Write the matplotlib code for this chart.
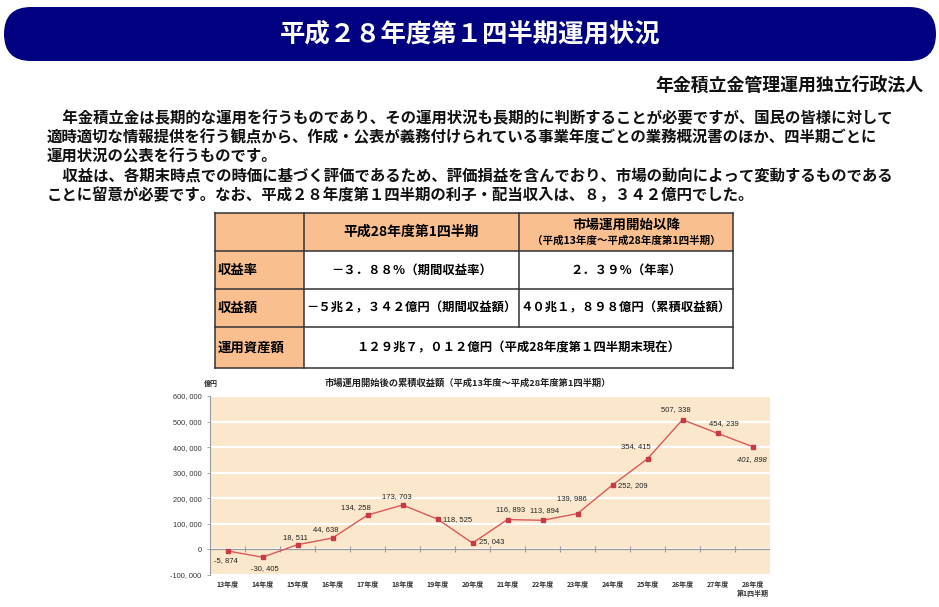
import numpy as np
import matplotlib
matplotlib.use("Agg")
import matplotlib.pyplot as plt
from matplotlib.patches import FancyBboxPatch, Rectangle

plt.rcParams['font.family'] = ['Noto Sans CJK JP', 'DejaVu Sans']

# ---------------- data ----------------
categories = ["13年度", "14年度", "15年度", "16年度", "17年度", "18年度", "19年度", "20年度",
              "21年度", "22年度", "23年度", "24年度", "25年度", "26年度", "27年度", "28年度\n第1四半期"]
cumulative = [-5874, -30405, 18511, 44638, 134258, 173703, 118525, 25043,
              116893, 113894, 139986, 252209, 354415, 507338, 454239, 401898]
y_ticks = [-100000, 0, 100000, 200000, 300000, 400000, 500000, 600000]

title = "平成２８年度第１四半期運用状況"
org = "年金積立金管理運用独立行政法人"
paragraph = [
    "　年金積立金は長期的な運用を行うものであり、その運用状況も長期的に判断することが必要ですが、国民の皆様に対して",
    "適時適切な情報提供を行う観点から、作成・公表が義務付けられている事業年度ごとの業務概況書のほか、四半期ごとに",
    "運用状況の公表を行うものです。",
    "　収益は、各期末時点での時価に基づく評価であるため、評価損益を含んでおり、市場の動向によって変動するものである",
    "ことに留意が必要です。なお、平成２８年度第１四半期の利子・配当収入は、８，３４２億円でした。",
]
table_header = ["平成28年度第1四半期", "市場運用開始以降", "（平成13年度～平成28年度第1四半期）"]
table_rows = ["収益率", "収益額", "運用資産額"]
table_cells = [
    ["－３．８８％（期間収益率）", "２．３９％（年率）"],
    ["－５兆２，３４２億円（期間収益額）", "４０兆１，８９８億円（累積収益額）"],
    ["１２９兆７，０１２億円（平成28年度第１四半期末現在）"],
]
chart_title = "市場運用開始後の累積収益額（平成13年度～平成28年度第1四半期）"
unit = "億円"

# label offsets (pixels) and alignment per point
label_off = [(-2, -10), (2, -11), (-2, 7), (-7, 8), (-12, 8), (-6, 8), (5, 0), (6, 1),
             (3, 10), (2, 10), (-6, 15), (5, -1), (-12, 12), (-7, 10), (6, 10), (-1, -13)]
label_ha = ['center'] * 6 + ['left', 'left'] + ['center'] * 3 + ['left'] + ['center'] * 4

W, H = 939, 607
fig = plt.figure(figsize=(W / 100, H / 100), dpi=100)
fig.patch.set_facecolor('white')

bg = fig.add_axes([0, 0, 1, 1])
bg.set_xlim(0, W)
bg.set_ylim(H, 0)
bg.axis('off')

# banner
navy = '#000080'
bg.add_patch(FancyBboxPatch((4, 7), 932, 54, boxstyle="round,pad=0,rounding_size=27",
                            fc=navy, ec='none'))
bg.text(470, 34, title, color='white', fontsize=18.3, fontweight='bold',
        ha='center', va='center')

bg.text(923, 86, org, fontsize=12.9, fontweight='bold', ha='right', va='center', color='#111')

line_y = [118, 137, 156, 176, 195]
for ly, s in zip(line_y, paragraph):
    bg.text(47, ly, s, fontsize=11.1, fontweight='bold', ha='left', va='center', color='#111')

# table
cx = [215, 304, 519, 733]
ry = [213, 251, 289, 327, 368]
peach = '#FABF8F'
edge = '#333333'
bg.add_patch(Rectangle((cx[0], ry[0]), cx[3] - cx[0], ry[1] - ry[0], fc=peach, ec='none'))
bg.add_patch(Rectangle((cx[0], ry[1]), cx[1] - cx[0], ry[4] - ry[1], fc=peach, ec='none'))
for y in ry:
    bg.plot([cx[0], cx[3]], [y, y], color=edge, lw=1.1)
for xx in cx[:2] + cx[3:]:
    bg.plot([xx, xx], [ry[0], ry[4]], color=edge, lw=1.1)
bg.plot([cx[2], cx[2]], [ry[0], ry[3]], color=edge, lw=1.1)

bg.text((cx[1] + cx[2]) / 2, (ry[0] + ry[1]) / 2, table_header[0], fontsize=10, fontweight='bold',
        ha='center', va='center')
bg.text((cx[2] + cx[3]) / 2, 225, table_header[1], fontsize=9.7, fontweight='bold',
        ha='center', va='center')
bg.text((cx[2] + cx[3]) / 2, 241, table_header[2], fontsize=7.6, fontweight='bold',
        ha='center', va='center')
for i, lab in enumerate(table_rows):
    yc = (ry[i + 1] + ry[i + 2]) / 2
    bg.text(218, yc, lab, fontsize=9.6, fontweight='bold', ha='left', va='center')
    cells = table_cells[i]
    if len(cells) == 2:
        bg.text((cx[1] + cx[2]) / 2, yc, cells[0], fontsize=8.9, fontweight='bold',
                ha='center', va='center')
        bg.text((cx[2] + cx[3]) / 2, yc, cells[1], fontsize=8.9, fontweight='bold',
                ha='center', va='center')
    else:
        bg.text((cx[1] + cx[3]) / 2, yc, cells[0], fontsize=8.9, fontweight='bold',
                ha='center', va='center')

# chart titles
bg.text(468, 383, chart_title, fontsize=6.7, fontweight='bold', ha='center', va='center', color='#222')
bg.text(211, 383, unit, fontsize=5, fontweight='bold', ha='center', va='center', color='#222')

# chart
ax = fig.add_axes([210 / W, 1 - 575 / H, 560 / W, 179 / H])
ax.set_facecolor('#FBE8CC')
n = len(categories)
x = np.arange(n)
ax.set_xlim(-0.5, n - 0.5)
ax.set_ylim(y_ticks[0], y_ticks[-1])
ax.set_yticks(y_ticks)
ax.set_yticklabels(["{:,}".format(v).replace(",", ", ") for v in y_ticks],
                   family=['Liberation Sans', 'DejaVu Sans'])
ax.yaxis.grid(True, color='white', lw=1.6)
ax.set_axisbelow(True)
for s in ['top', 'right', 'bottom']:
    ax.spines[s].set_visible(False)
ax.spines['left'].set_color('#999999')
ax.spines['left'].set_linewidth(0.8)
ax.tick_params(axis='y', labelsize=5.3, labelcolor='#333333', length=2, width=0.6, pad=4,
               color='#999999')
ax.set_xticks(x)
ax.set_xticklabels(categories, fontsize=5, color='#333333', linespacing=1.3, fontweight='bold')
ax.tick_params(axis='x', length=0, pad=4)

ax.axhline(0, color='#9a9a9a', lw=0.9, zorder=2)
ax.plot(x[:-1] + 0.5, np.zeros(n - 1), ls='none', marker='|', ms=4, mew=0.8,
        color='#9a9a9a', zorder=2)

ax.plot(x, cumulative, color='#D9595A', lw=1.0, marker='s', ms=2.6,
        mfc='#C83A44', mec='#C83A44', zorder=3)

for i, v in enumerate(cumulative):
    ax.annotate("{:,}".format(v).replace(",", ", "), (x[i], v),
                xytext=label_off[i], textcoords='offset pixels',
                ha=label_ha[i], va='center', fontsize=5.5, color='#222222',
                family=['Liberation Sans', 'DejaVu Sans'],
                style='italic' if i == n - 1 else 'normal')

fig.savefig("out.png", dpi=100, facecolor='white')
